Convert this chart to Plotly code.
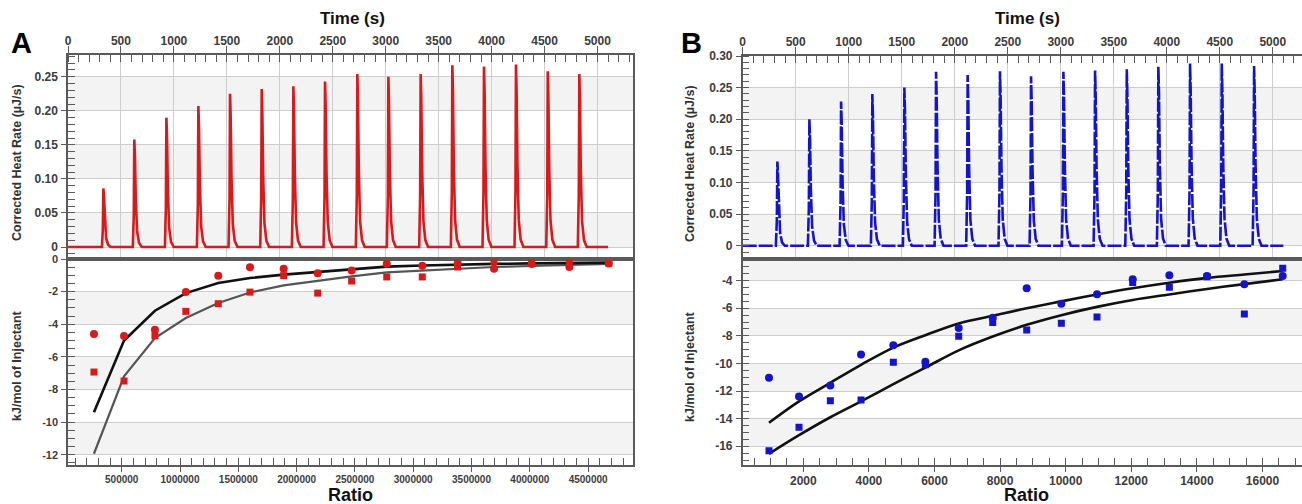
import plotly.graph_objects as go

# ---------------- data ----------------
# Panel A - thermogram peaks
peak_time_A = [334, 626, 929, 1231, 1530, 1829, 2128, 2427, 2732, 3025, 3330, 3629, 3928, 4230, 4530, 4828]
peak_heat_A = [0.086, 0.158, 0.190, 0.207, 0.225, 0.232, 0.236, 0.243, 0.254, 0.250, 0.254, 0.267, 0.265, 0.268, 0.258, 0.254]
# Panel B - thermogram peaks
peak_time_B = [327, 629, 928, 1223, 1525, 1824, 2122, 2427, 2720, 3025, 3324, 3623, 3921, 4220, 4519, 4824]
peak_heat_B = [0.133, 0.200, 0.228, 0.240, 0.250, 0.275, 0.270, 0.276, 0.268, 0.275, 0.277, 0.279, 0.283, 0.288, 0.288, 0.284]
run_end_A = 5100
run_end_B = 5100

# Panel A - binding isotherm
ratio_A = [262000, 520000, 785000, 1050000, 1328000, 1600000, 1889000, 2181000,
           2472000, 2773000, 3078000, 3381000, 3693000, 4016000, 4339000, 4677000]
circle_A = [-4.60, -4.72, -4.34, -2.03, -1.02, -0.51, -0.60, -0.88,
            -0.70, -0.29, -0.41, -0.27, -0.60, -0.31, -0.49, -0.27]
square_A = [-6.93, -7.48, -4.71, -3.21, -2.74, -2.03, -1.02, -2.09,
            -1.35, -1.10, -1.10, -0.49, -0.15, -0.17, -0.15, -0.25]
fit_circle_A = [-9.39, -5.00, -3.17, -2.09, -1.47, -1.17, -0.96, -0.80,
                -0.61, -0.47, -0.40, -0.34, -0.30, -0.27, -0.24, -0.22]
fit_square_A = [-11.94, -7.20, -4.85, -3.62, -2.70, -2.05, -1.62, -1.33,
                -1.07, -0.82, -0.70, -0.58, -0.49, -0.43, -0.37, -0.30]

# Panel B - binding isotherm
ratio_B = [954, 1869, 2824, 3760, 4745, 5722, 6738, 7775,
           8811, 9867, 10955, 12043, 13160, 14309, 15447, 16617]
circle_B = [-11.03, -12.40, -11.60, -9.36, -8.68, -9.87, -7.43, -6.68,
            -4.55, -5.67, -4.99, -3.90, -3.61, -3.66, -4.26, -3.66]
square_B = [-16.32, -14.63, -12.70, -12.65, -9.91, -10.10, -8.03, -7.04,
            -7.57, -7.09, -6.63, -4.14, -4.48, -3.72, -6.41, -3.10]
fit_circle_B = [-14.30, -12.75, -11.40, -10.10, -8.85, -7.95, -7.10, -6.55,
                -6.00, -5.50, -5.00, -4.55, -4.15, -3.80, -3.55, -3.30]
fit_square_B = [-16.55, -15.20, -13.90, -12.75, -11.50, -10.30, -9.05, -8.05,
                -7.20, -6.50, -5.90, -5.40, -5.00, -4.60, -4.25, -3.90]

# tick labels
heat_ticks_A = [0, 0.05, 0.10, 0.15, 0.20, 0.25]
heat_labels_A = ["0", "0.05", "0.10", "0.15", "0.20", "0.25"]
heat_ticks_B = [0, 0.05, 0.10, 0.15, 0.20, 0.25, 0.30]
heat_labels_B = ["0", "0.05", "0.10", "0.15", "0.20", "0.25", "0.30"]
kj_ticks_A = [0, -2, -4, -6, -8, -10, -12]
kj_ticks_B = [-4, -6, -8, -10, -12, -14, -16]
ratio_ticks_A = [500000, 1000000, 1500000, 2000000, 2500000, 3000000, 3500000, 4000000, 4500000]
ratio_ticks_B = [2000, 4000, 6000, 8000, 10000, 12000, 14000, 16000]

# ---------------- styling ----------------
W, H = 1302, 504
FONT = "Liberation Sans, Arial, sans-serif"
RED = "#d91a1a"
BLUE = "#1414c8"
GRID = "#cdcdcd"
FRAME = "#5a5a5a"
TICKC = "#3c3c3c"
BAND = "#f3f3f3"

# peak drawing profile (shape of one injection spike)
prof_dt = [-14, -5, 0, 6, 14, 26, 44, 70]
prof_f = [0.0, 0.30, 1.0, 0.85, 0.45, 0.15, 0.04, 0.0]


def thermogram(times, heights, t_end):
    xs, ys = [0], [0.0]
    for t, h in zip(times, heights):
        for dt, f in zip(prof_dt, prof_f):
            xs.append(t + dt)
            ys.append(h * f)
    xs.append(t_end)
    ys.append(0.0)
    return xs, ys


def px_x(p):
    return p / W


def px_y(p):
    return 1 - p / H


# panel pixel boxes
A_x = [68, 633]
B_x = [742.7, 1302]
top_y = {"A": [55, 259], "B": [56, 259]}
bot_y = [259, 465]

fig = go.Figure()

xa, ya = thermogram(peak_time_A, peak_heat_A, run_end_A)
xb, yb = thermogram(peak_time_B, peak_heat_B, run_end_B)

fig.add_trace(go.Scatter(x=xa, y=ya, xaxis="x", yaxis="y", mode="lines",
                         line=dict(color=RED, width=2.6), showlegend=False))
fig.add_trace(go.Scatter(x=xb, y=yb, xaxis="x3", yaxis="y3", mode="lines",
                         line=dict(color=BLUE, width=2.6, dash="14px,2px"), showlegend=False))

# isotherms A
fig.add_trace(go.Scatter(x=ratio_A, y=fit_square_A, xaxis="x2", yaxis="y2", mode="lines",
                         line=dict(color="#555555", width=2.2), showlegend=False))
fig.add_trace(go.Scatter(x=ratio_A, y=fit_circle_A, xaxis="x2", yaxis="y2", mode="lines",
                         line=dict(color="#111111", width=2.6), showlegend=False))
fig.add_trace(go.Scatter(x=ratio_A, y=square_A, xaxis="x2", yaxis="y2", mode="markers",
                         marker=dict(symbol="square", size=7, color=RED), showlegend=False))
fig.add_trace(go.Scatter(x=ratio_A, y=circle_A, xaxis="x2", yaxis="y2", mode="markers",
                         marker=dict(symbol="circle", size=8, color=RED), showlegend=False))
# isotherms B
fig.add_trace(go.Scatter(x=ratio_B, y=fit_square_B, xaxis="x4", yaxis="y4", mode="lines",
                         line=dict(color="#111111", width=2.6, shape="spline"), showlegend=False))
fig.add_trace(go.Scatter(x=ratio_B, y=fit_circle_B, xaxis="x4", yaxis="y4", mode="lines",
                         line=dict(color="#111111", width=2.6, shape="spline"), showlegend=False))
fig.add_trace(go.Scatter(x=ratio_B, y=square_B, xaxis="x4", yaxis="y4", mode="markers",
                         marker=dict(symbol="square", size=7, color=BLUE), showlegend=False))
fig.add_trace(go.Scatter(x=ratio_B, y=circle_B, xaxis="x4", yaxis="y4", mode="markers",
                         marker=dict(symbol="circle", size=8, color=BLUE), showlegend=False))

tf12 = dict(family=FONT, size=12, color=TICKC, weight="bold")
tf11 = dict(family=FONT, size=11, color=TICKC, weight="bold")
tf10 = dict(family=FONT, size=10, color=TICKC, weight="bold")


def time_axis(dom, anchor, rng):
    return dict(domain=dom, anchor=anchor, side="top", range=rng, tick0=0, dtick=500,
                ticks="outside", ticklen=7, tickcolor=FRAME, tickwidth=1,
                minor=dict(dtick=100, tick0=0, ticks="inside", ticklen=7, tickcolor=FRAME, showgrid=False),
                showgrid=True, gridcolor=GRID, gridwidth=1, zeroline=False,
                showline=True, linecolor=FRAME, linewidth=1.5, mirror=True,
                tickfont=tf12, exponentformat="none", ticklabelstandoff=-4)


def grid_axis(dom, anchor, over, rng):
    return dict(domain=dom, anchor=anchor, overlaying=over, range=rng, tick0=0, dtick=500,
                showgrid=True, gridcolor=GRID, gridwidth=1, zeroline=False,
                showticklabels=False, ticks="", showline=False, side="top")


def ratio_axis(dom, anchor, rng, tv, mdt, font):
    return dict(domain=dom, anchor=anchor, side="bottom", range=rng,
                tickmode="array", tickvals=tv, ticktext=[str(v) for v in tv],
                ticks="outside", ticklen=5, tickcolor=FRAME,
                minor=dict(tickmode="linear", tick0=0, dtick=mdt, ticks="inside", ticklen=7,
                           tickcolor=FRAME, showgrid=False),
                showgrid=False, zeroline=False, showline=True, linecolor=FRAME,
                linewidth=2, mirror=True, tickfont=font, ticklabelstandoff=-1)


def y_axis(dom, anchor, rng, tv, tt, mdt, font):
    return dict(domain=dom, anchor=anchor, range=rng, tickvals=tv, ticktext=tt,
                ticks="outside", ticklen=5, tickcolor=FRAME,
                minor=dict(tickmode="linear", tick0=0, dtick=mdt, ticks="inside", ticklen=7,
                           tickcolor=FRAME, showgrid=False),
                showgrid=True, gridcolor=GRID, gridwidth=1, zeroline=False,
                showline=True, linecolor=FRAME, linewidth=1.5, mirror=True, tickfont=font,
                ticklabelstandoff=1)


dA = [px_x(A_x[0]), px_x(A_x[1])]
dB = [px_x(B_x[0]), min(1.0, px_x(B_x[1]))]
tyA = [px_y(top_y["A"][1]), px_y(top_y["A"][0])]
tyB = [px_y(top_y["B"][1]), px_y(top_y["B"][0])]
by = [px_y(bot_y[1]), px_y(bot_y[0])]

rngA_time = [0, 5335]
rngB_time = [0, 5276]

fig.update_layout(
    width=W, height=H, margin=dict(l=0, r=0, t=0, b=0, autoexpand=False),
    paper_bgcolor="white", plot_bgcolor="white",
    xaxis=time_axis(dA, "y", rngA_time),
    yaxis=y_axis(tyA, "x", [-0.0176, 0.282], heat_ticks_A, heat_labels_A, 0.01, tf12),
    xaxis2=ratio_axis(dA, "y2", [39450, 4885000], ratio_ticks_A, 100000, tf10),
    yaxis2=y_axis(by, "x2", [-12.63, 0], kj_ticks_A, [str(v) for v in kj_ticks_A], 0.5, tf11),
    xaxis3=time_axis(dB, "y3", rngB_time),
    yaxis3=y_axis(tyB, "x3", [-0.021, 0.30], heat_ticks_B, heat_labels_B, 0.01, tf12),
    xaxis4=ratio_axis(dB, "y4", [152, 17205], ratio_ticks_B, 500, tf12),
    yaxis4=y_axis(by, "x4", [-17.36, -2.43], kj_ticks_B, [str(v) for v in kj_ticks_B], 0.5, tf12),
    xaxis5=grid_axis(dA, "y2", "x2", rngA_time),
    xaxis6=grid_axis(dB, "y4", "x4", rngB_time),
)

# alternating grey bands
shapes = []
def bands(xref, yref, edges):
    for i in range(0, len(edges) - 1, 2):
        shapes.append(dict(type="rect", xref=xref, yref=yref, x0=0, x1=1,
                           y0=edges[i], y1=edges[i + 1], fillcolor=BAND,
                           line=dict(width=0), layer="below"))

bands("x domain", "y", heat_ticks_A)
bands("x3 domain", "y3", heat_ticks_B[:-1])
bands("x2 domain", "y2", kj_ticks_A[1:])
bands("x4 domain", "y4", [-2.43] + kj_ticks_B)
fig.update_layout(shapes=shapes)

ann = []
def text(x, y, s, size, angle=0, color="#111111"):
    ann.append(dict(x=px_x(x), y=px_y(y), xref="paper", yref="paper", text=s,
                    showarrow=False, textangle=angle, xanchor="center", yanchor="middle",
                    font=dict(family=FONT, size=size, color=color, weight="bold")))

text(21, 43, "A", 29, color="#000000")
text(692, 43, "B", 29, color="#000000")
text(352, 19, "Time (s)", 17)
text(1027, 19, "Time (s)", 17)
text(350, 495, "Ratio", 18)
text(1026, 495, "Ratio", 18)
text(17, 163, "Corrected Heat Rate (µJ/s)", 12.5, angle=-90, color="#333333")
text(690, 164, "Corrected Heat Rate (µJ/s)", 12.5, angle=-90, color="#333333")
text(17, 366, "kJ/mol of Injectant", 12.5, angle=-90, color="#333333")
text(690, 367, "kJ/mol of Injectant", 12.5, angle=-90, color="#333333")
fig.update_layout(annotations=ann)

fig.write_html("out.html", config={"displayModeBar": False},
               post_script="document.body.style.margin='0px';document.body.style.overflow='hidden';")
